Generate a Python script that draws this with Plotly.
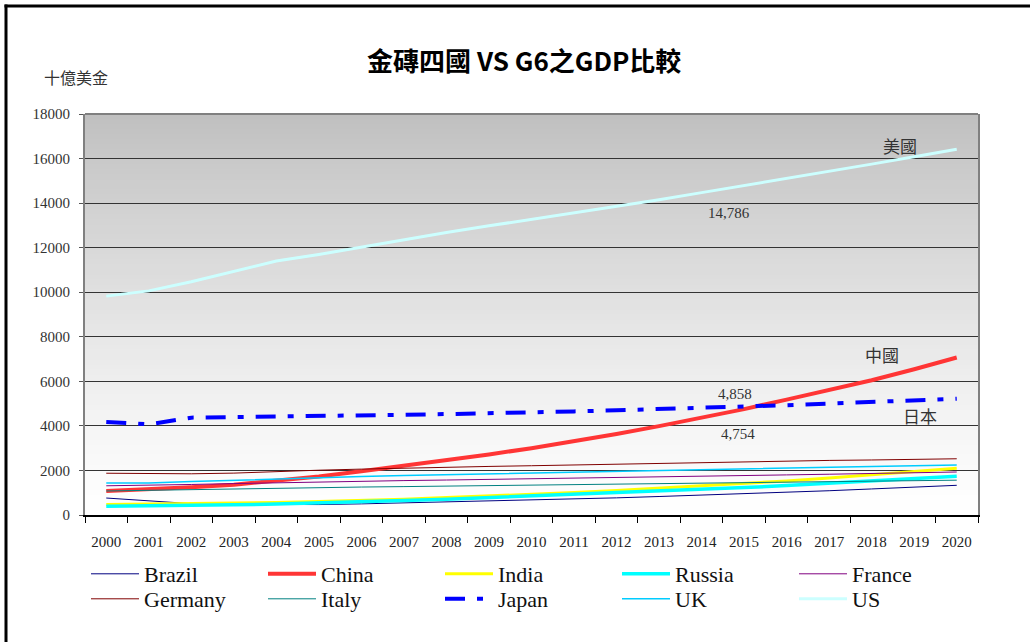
import plotly.graph_objects as go

years = [str(y) for y in range(2000, 2021)]

brazil = [762, 620, 510, 480, 470, 468, 500, 540, 580, 625, 668, 720, 770, 830, 890, 952, 1020, 1090, 1170, 1250, 1333]
china = [1078, 1150, 1250, 1360, 1520, 1724, 1960, 2200, 2450, 2720, 2998, 3300, 3640, 3990, 4370, 4754, 5180, 5600, 6050, 6540, 7070]
india = [469, 485, 505, 530, 565, 604, 650, 710, 780, 850, 929, 1010, 1100, 1200, 1300, 1411, 1530, 1660, 1800, 1950, 2104]
russia = [391, 405, 425, 455, 490, 534, 590, 650, 710, 780, 847, 920, 990, 1070, 1150, 1232, 1320, 1420, 1520, 1630, 1741]
france = [1311, 1330, 1370, 1410, 1450, 1489, 1520, 1545, 1570, 1595, 1622, 1650, 1680, 1710, 1740, 1767, 1800, 1830, 1865, 1900, 1930]
germany = [1875, 1850, 1850, 1880, 1960, 2011, 2060, 2110, 2150, 2180, 2212, 2250, 2290, 2320, 2350, 2386, 2420, 2450, 2470, 2500, 2524]
italy = [1078, 1110, 1150, 1185, 1215, 1236, 1255, 1275, 1295, 1315, 1337, 1360, 1380, 1405, 1425, 1447, 1470, 1495, 1515, 1540, 1563]
japan = [4176, 4070, 4370, 4390, 4400, 4427, 4470, 4500, 4530, 4560, 4601, 4650, 4700, 4750, 4800, 4858, 4930, 5000, 5080, 5150, 5221]
uk = [1437, 1440, 1500, 1560, 1630, 1688, 1730, 1770, 1810, 1845, 1876, 1920, 1960, 2010, 2050, 2089, 2120, 2150, 2180, 2210, 2241]
us = [9825, 10060, 10470, 10920, 11400, 11697, 12030, 12350, 12680, 12980, 13271, 13560, 13850, 14150, 14470, 14786, 15100, 15410, 15750, 16080, 16415]

y_ticks = [0, 2000, 4000, 6000, 8000, 10000, 12000, 14000, 16000, 18000]

title_text = "金磚四國 VS G6之GDP比較"
unit_text = "十億美金"

series = [
    ("Brazil", brazil, dict(color="#000080", width=1)),
    ("China", china, dict(color="#ff3535", width=4)),
    ("India", india, dict(color="#ffff00", width=3)),
    ("Russia", russia, dict(color="#00ffff", width=3.5)),
    ("France", france, dict(color="#800080", width=1)),
    ("Germany", germany, dict(color="#800000", width=1)),
    ("Italy", italy, dict(color="#008080", width=1)),
    ("Japan", japan, dict(color="#0000ff", width=4, dash="20px,12px,6px,12px")),
    ("UK", uk, dict(color="#00ccff", width=1.5)),
    ("US", us, dict(color="#ccffff", width=3)),
]

fig = go.Figure()
for i, (name, vals, line) in enumerate(series):
    fig.add_trace(go.Scatter(x=years, y=vals, name=name, mode="lines", line=line,
                             legend="legend" if i < 5 else "legend2"))

SERIF = "Liberation Serif, Times New Roman, serif"
CJK = "Noto Sans CJK TC, Noto Sans CJK SC, sans-serif"

# plot area in pixels: x 85..978, y 114..515
L, R, T, B = 85, 52, 114, 127
W, H = 1030, 642
pw, ph = W - L - R, H - T - B

def px(xp):
    return (xp - L) / pw

def py(yp):
    return (H - B - yp) / ph

shapes = []
# background vertical gradient (grey at top, white at bottom)
n = 80
for i in range(n):
    t0 = i / n
    t1 = (i + 1) / n
    tm = (t0 + t1) / 2
    c = int(round(255 - 63 * tm ** 1.2))
    shapes.append(dict(type="rect", xref="paper", yref="paper", x0=0, x1=1, y0=t0, y1=t1 + 0.002,
                       fillcolor=f"rgb({c},{c},{c})", line=dict(width=0), layer="below"))
# top plot border
shapes.append(dict(type="line", xref="paper", yref="paper", x0=0, x1=1, y0=1, y1=1,
                   line=dict(color="#808080", width=2)))
# outer frame (top and left, black)
shapes.append(dict(type="line", xref="paper", yref="paper", x0=px(4.5), x1=px(1040), y0=py(6), y1=py(6),
                   line=dict(color="black", width=3)))
shapes.append(dict(type="line", xref="paper", yref="paper", x0=px(6), x1=px(6), y0=py(4.5), y1=py(660),
                   line=dict(color="black", width=3)))

i2015 = years.index("2015")
i2020 = years.index("2020")

ann_font_cjk = dict(family=CJK, size=17, color="#333333")
ann_font_num = dict(family=SERIF, size=15, color="#333333")
annotations = [
    dict(text=title_text, xref="paper", yref="paper", x=px(524), y=py(60), showarrow=False,
         font=dict(family=CJK, size=26, color="black", weight="bold"), xanchor="center", yanchor="middle"),
    dict(text=unit_text, xref="paper", yref="paper", x=px(42), y=py(77), showarrow=False,
         font=dict(family=CJK, size=16, color="#333333"), xanchor="left", yanchor="middle"),
    dict(text="美國", x=i2020, y=us[i2020], xshift=-57, yshift=4, showarrow=False, font=ann_font_cjk),
    dict(text="14,786", x=i2015, y=us[i2015], xshift=-15, yshift=-27, showarrow=False, font=ann_font_num),
    dict(text="中國", x=i2020, y=china[i2020], xshift=-75, yshift=3, showarrow=False, font=ann_font_cjk),
    dict(text="4,858", x=i2015, y=japan[i2015], xshift=-9, yshift=13, showarrow=False, font=ann_font_num),
    dict(text="4,754", x=i2015, y=china[i2015], xshift=-6, yshift=-25, showarrow=False, font=ann_font_num),
    dict(text="日本", x=i2020, y=japan[i2020], xshift=-37, yshift=-17, showarrow=False, font=ann_font_cjk),
]

legend_common = dict(
    orientation="h", xanchor="left", yanchor="middle",
    entrywidth=114, entrywidthmode="pixels", traceorder="normal",
    font=dict(family=SERIF, size=22, color="#111111"),
    bgcolor="rgba(0,0,0,0)", itemwidth=48, tracegroupgap=0,
)

fig.update_layout(
    width=W, height=H,
    margin=dict(l=L, r=R, t=T, b=B, pad=0, autoexpand=False),
    paper_bgcolor="white",
    plot_bgcolor="white",
    showlegend=True,
    legend=dict(legend_common, x=px(86), y=py(574)),
    legend2=dict(legend_common, x=px(86), y=py(599)),
    xaxis=dict(
        type="category", range=[-0.5, 20.5], tickson="boundaries",
        ticks="outside", ticklen=6, tickcolor="black", tickwidth=1,
        showline=True, linecolor="black", linewidth=2, showgrid=False,
        tickfont=dict(family=SERIF, size=15, color="#222222"),
        ticklabelstandoff=12, fixedrange=True,
    ),
    yaxis=dict(
        range=[0, 18000], tickvals=y_ticks, ticktext=[str(v) for v in y_ticks],
        ticks="outside", ticklen=4, tickcolor="#555555",
        showline=True, linecolor="#808080", linewidth=2, mirror=True,
        showgrid=True, gridcolor="#333333", gridwidth=1, zeroline=False,
        tickfont=dict(family=SERIF, size=15, color="#333333"),
        ticklabelstandoff=6, fixedrange=True,
    ),
    shapes=shapes,
    annotations=annotations,
)

fig.write_html("out.html", include_plotlyjs=True, full_html=True,
               config={"displayModeBar": False},
               post_script="document.body.style.margin='0';document.body.style.overflow='hidden';")
